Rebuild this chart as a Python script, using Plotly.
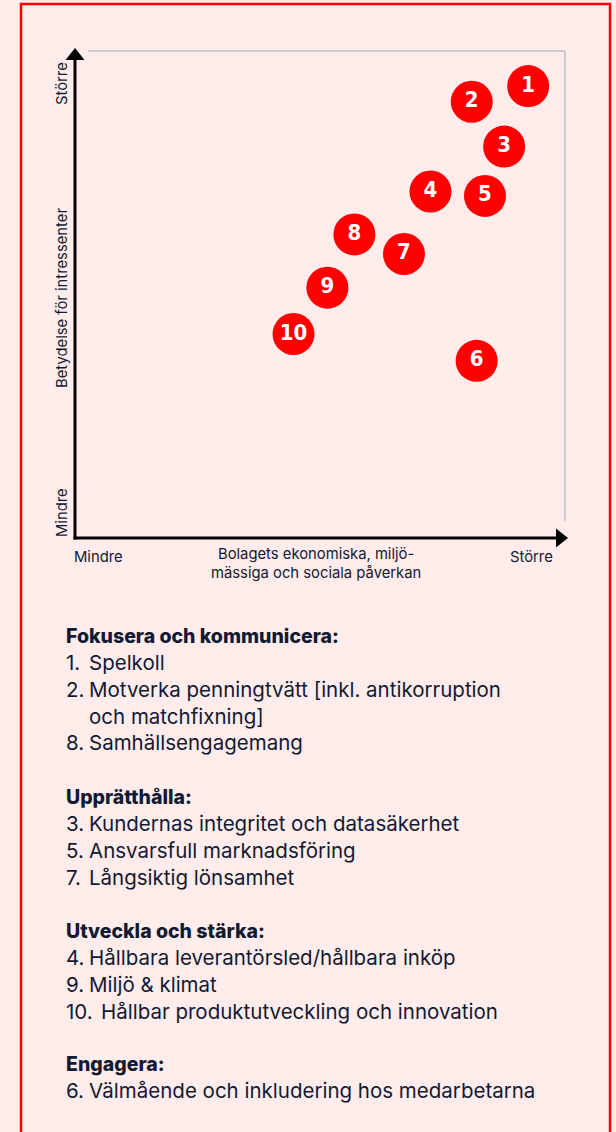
import plotly.graph_objects as go

W, H = 616, 1132

# ---- data ----
labels = ["1", "2", "3", "4", "5", "6", "7", "8", "9", "10"]
impact = [9.23, 8.08, 8.74, 7.24, 8.35, 8.18, 6.70, 5.69, 5.14, 4.45]      # x: Bolagets påverkan
stakeholder = [9.26, 8.94, 8.02, 7.10, 7.01, 3.63, 5.82, 6.22, 5.13, 4.18]  # y: Betydelse för intressenter

group_titles = ["Fokusera och kommunicera:", "Upprätthålla:", "Utveckla och stärka:", "Engagera:"]
group_numbers = [["1.", "2.", "", "8."], ["3.", "5.", "7."], ["4.", "9.", "10."], ["6."]]
group_items = [
    ["Spelkoll", "Motverka penningtvätt [inkl. antikorruption", "och matchfixning]", "Samhällsengagemang"],
    ["Kundernas integritet och datasäkerhet", "Ansvarsfull marknadsföring", "Långsiktig lönsamhet"],
    ["Hållbara leverantörsled/hållbara inköp", "Miljö & klimat", "Hållbar produktutveckling och innovation"],
    ["Välmående och inkludering hos medarbetarna"],
]

x_title = "Bolagets ekonomiska, miljö-<br>mässiga och sociala påverkan"
y_title = "Betydelse för intressenter"
low_label, high_label = "Mindre", "Större"

# ---- styling ----
BG = "#ffeceb"
NAVY = "#111a33"
RED = "#ff0000"
FONT = "Inter"


def px(x):
    return x / W


def py(y):
    return 1 - y / H


fig = go.Figure()
fig.add_trace(go.Scatter(
    x=impact, y=stakeholder, text=labels, mode="markers+text",
    marker=dict(size=42, color=RED, line=dict(width=0)),
    textposition="middle center",
    textfont=dict(family="'DejaVu Sans Condensed', Inter", size=22, color="white", weight=800),
    cliponaxis=False, hoverinfo="skip", showlegend=False,
))

shapes = []
# red frame
shapes.append(dict(type="rect", xref="paper", yref="paper",
                   x0=px(21), x1=px(610), y0=py(1150), y1=py(4),
                   line=dict(color=RED, width=2.5), layer="below"))
# grey frame top / right
shapes.append(dict(type="line", xref="paper", yref="paper",
                   x0=px(88), x1=px(565), y0=py(51), y1=py(51),
                   line=dict(color="#cccccc", width=2), layer="below"))
shapes.append(dict(type="line", xref="paper", yref="paper",
                   x0=px(565), x1=px(565), y0=py(51), y1=py(521),
                   line=dict(color="#cccccc", width=2), layer="below"))
# black axes
shapes.append(dict(type="line", xref="paper", yref="paper",
                   x0=px(75), x1=px(75), y0=py(539.5), y1=py(58),
                   line=dict(color="black", width=3)))
shapes.append(dict(type="line", xref="paper", yref="paper",
                   x0=px(73.5), x1=px(558), y0=py(538), y1=py(538),
                   line=dict(color="black", width=3)))


def tri(pts):
    s = "M " + " L ".join(f"{px(a)},{py(b)}" for a, b in pts) + " Z"
    return s


shapes.append(dict(type="path", xref="paper", yref="paper",
                   path=tri([(75, 48), (65.5, 60), (84.5, 60)]),
                   fillcolor="black", line=dict(width=0)))
shapes.append(dict(type="path", xref="paper", yref="paper",
                   path=tri([(568, 538), (556, 528.5), (556, 547.5)]),
                   fillcolor="black", line=dict(width=0)))

ann = []
ax_font = dict(family=FONT, size=14.8, color=NAVY)
ann.append(dict(x=px(62), y=py(84), text=high_label, textangle=-90, showarrow=False,
                xref="paper", yref="paper", font=ax_font, xanchor="center", yanchor="middle"))
ann.append(dict(x=px(62), y=py(298), text=y_title, textangle=-90, showarrow=False,
                xref="paper", yref="paper", font=ax_font, xanchor="center", yanchor="middle"))
ann.append(dict(x=px(62), y=py(513), text=low_label, textangle=-90, showarrow=False,
                xref="paper", yref="paper", font=ax_font, xanchor="center", yanchor="middle"))
ann.append(dict(x=px(72), y=py(557), text=low_label, showarrow=False,
                xref="paper", yref="paper", font=ax_font, xanchor="left", yanchor="middle"))
ann.append(dict(x=px(555), y=py(557), text=high_label, showarrow=False,
                xref="paper", yref="paper", font=ax_font, xanchor="right", yanchor="middle"))
ann.append(dict(x=px(316), y=py(563), text=x_title, showarrow=False,
                xref="paper", yref="paper", font=ax_font, xanchor="center", yanchor="middle",
                align="center"))

# list blocks
heading_y = [636, 797, 931, 1064]
line_h = 26.7
for gi, title in enumerate(group_titles):
    y0 = heading_y[gi]
    ann.append(dict(x=px(64), y=py(y0), text=title, showarrow=False, xref="paper", yref="paper",
                    font=dict(family=FONT, size=19.5, color=NAVY, weight=800),
                    xanchor="left", yanchor="middle"))
    for li, (num, item) in enumerate(zip(group_numbers[gi], group_items[gi])):
        yy = y0 + line_h * (li + 1)
        if num:
            ann.append(dict(x=px(64), y=py(yy), text=num, showarrow=False, xref="paper", yref="paper",
                            font=dict(family=FONT, size=20.5, color=NAVY),
                            xanchor="left", yanchor="middle"))
        tx = 99 if len(num) > 2 else 87
        ann.append(dict(x=px(tx), y=py(yy), text=item, showarrow=False, xref="paper", yref="paper",
                        font=dict(family=FONT, size=20.5, color=NAVY),
                        xanchor="left", yanchor="middle"))

fig.update_layout(
    width=W, height=H,
    margin=dict(l=0, r=0, t=0, b=0),
    paper_bgcolor=BG, plot_bgcolor=BG,
    xaxis=dict(domain=[px(75), px(566)], range=[0, 10], visible=False, fixedrange=True),
    yaxis=dict(domain=[py(538), py(50)], range=[0, 10], visible=False, fixedrange=True),
    shapes=shapes, annotations=ann, showlegend=False,
)

fig.write_html("out.html", config={"displayModeBar": False},
               post_script="document.body.style.margin='0';document.body.style.background='%s';" % BG)
